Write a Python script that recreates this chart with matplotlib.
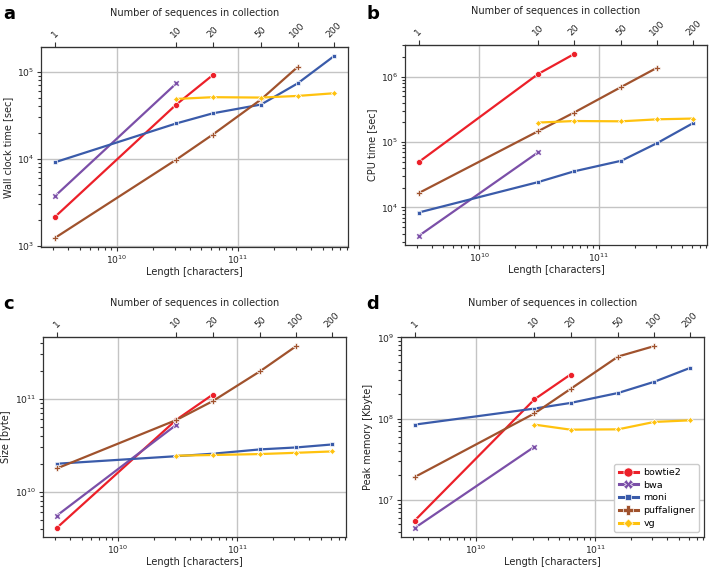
import matplotlib
matplotlib.use("Agg")
import matplotlib.pyplot as plt
import numpy as np
from matplotlib.ticker import NullLocator

# number of sequences in collection and the matching length in characters
seqs = [1, 10, 20, 50, 100, 200]
lengths = [3.1e9, 3.1e10, 6.2e10, 1.55e11, 3.1e11, 6.2e11]

tools = ["bowtie2", "bwa", "moni", "puffaligner", "vg"]
colors = ["#ec2029", "#7b4fa8", "#3a5baa", "#a0522d", "#ffc20e"]
markers = ["o", "X", (4, 0, 45), "P", (4, 0, 0)]

nan = np.nan
# wall clock time [sec]
wall = {
    "bowtie2": [2160, 42000, 91400, nan, nan, nan],
    "bwa": [3740, 73300, nan, nan, nan, nan],
    "moni": [9140, 25500, 33300, 42000, 73300, 151000],
    "puffaligner": [1240, 9800, 19000, 48000, 113000, nan],
    "vg": [nan, 48700, 51000, 50500, 52700, 56600],
}
# CPU time [sec]
cpu = {
    "bowtie2": [49400, 1.09e6, 2.2e6, nan, nan, nan],
    "bwa": [3680, 69500, nan, nan, nan, nan],
    "moni": [8380, 24400, 35600, 51800, 96600, 195000],
    "puffaligner": [16600, 146000, 281000, 695000, 1.37e6, nan],
    "vg": [nan, 198000, 209000, 207000, 222000, 228000],
}
# index size [byte]
size = {
    "bowtie2": [4.06e9, 5.93e10, 1.1e11, nan, nan, nan],
    "bwa": [5.5e9, 5.24e10, nan, nan, nan, nan],
    "moni": [1.99e10, 2.4e10, 2.55e10, 2.84e10, 2.98e10, 3.21e10],
    "puffaligner": [1.77e10, 5.89e10, 9.36e10, 1.97e11, 3.67e11, nan],
    "vg": [nan, 2.43e10, 2.47e10, 2.53e10, 2.61e10, 2.7e10],
}
# peak memory [Kbyte]
memory = {
    "bowtie2": [5.56e6, 1.73e8, 3.49e8, nan, nan, nan],
    "bwa": [4.51e6, 4.51e7, nan, nan, nan, nan],
    "moni": [8.44e7, 1.33e8, 1.56e8, 2.07e8, 2.84e8, 4.22e8],
    "puffaligner": [1.91e7, 1.16e8, 2.32e8, 5.82e8, 7.82e8, nan],
    "vg": [nan, 8.44e7, 7.31e7, 7.38e7, 9.1e7, 9.53e7],
}

W, H = 713, 569
# panel letter, data, y label, axes box in pixels (left, top, right, bottom), letter pos
panels = [
    ("a", wall, "Wall clock time [sec]", (41, 47, 348, 247), (3, 5)),
    ("b", cpu, "CPU time [sec]", (405, 45, 707, 245), (366, 5)),
    ("c", size, "Size [byte]", (43, 337, 346, 537), (3, 295)),
    ("d", memory, "Peak memory [Kbyte]", (401, 337, 704, 537), (366, 295)),
]

plt.rcParams["font.family"] = "DejaVu Sans"
plt.rcParams["font.size"] = 7

fig = plt.figure(figsize=(W / 100, H / 100), dpi=100)

for letter, data, ylabel, box, lpos in panels:
    l, t, r, b = box
    ax = fig.add_axes([l / W, 1 - b / H, (r - l) / W, (b - t) / H])
    x = np.array(lengths)
    for tool, c, m in zip(tools, colors, markers):
        y = np.array(data[tool], dtype=float)
        ok = ~np.isnan(y)
        ax.plot(x[ok], y[ok], color=c, lw=1.6, marker=m, ms=4.4,
                mec="white", mew=0.5, label=tool)

    ax.set_xscale("log")
    ax.set_yscale("log")
    ax.grid(True, which="major", color="#c4c4c4", lw=1.0)
    ax.set_axisbelow(True)
    for s in ax.spines.values():
        s.set_color("#333333")
        s.set_linewidth(0.9)
    ax.tick_params(which="both", colors="#333333", labelcolor="#222222",
                   labelsize=6.6, width=0.8, pad=1.5)
    ax.tick_params(which="major", length=3.2)
    ax.tick_params(which="minor", length=2.5)
    ax.set_xlabel("Length [characters]", fontsize=7, color="#222222",
                  labelpad=1)
    ax.set_ylabel(ylabel, fontsize=7, color="#222222", labelpad=3)

    sec = ax.secondary_xaxis("top")
    sec.set_xticks(lengths, labels=[str(n) for n in seqs])
    sec.xaxis.set_minor_locator(NullLocator())
    sec.tick_params(axis="x", rotation=45, labelsize=6.6, colors="#333333",
                    length=3.5, width=0.8, pad=2)
    for lab in sec.get_xticklabels():
        lab.set_color("#222222")
    sec.set_xlabel("Number of sequences in collection", fontsize=7,
                   color="#222222", labelpad=3)

    fig.text(lpos[0] / W, 1 - lpos[1] / H, letter, fontsize=13,
             fontweight="bold", va="top", ha="left")

    if letter == "d":
        leg = ax.legend(loc="lower right", fontsize=6.8, markerscale=1.5,
                        handlelength=2.0, framealpha=1.0, borderpad=0.45,
                        labelspacing=0.4, handletextpad=0.6)
        leg.get_frame().set_edgecolor("#cccccc")
        for h in leg.get_lines():
            h.set_linewidth(2.2)

fig.savefig("out.png", dpi=100)
